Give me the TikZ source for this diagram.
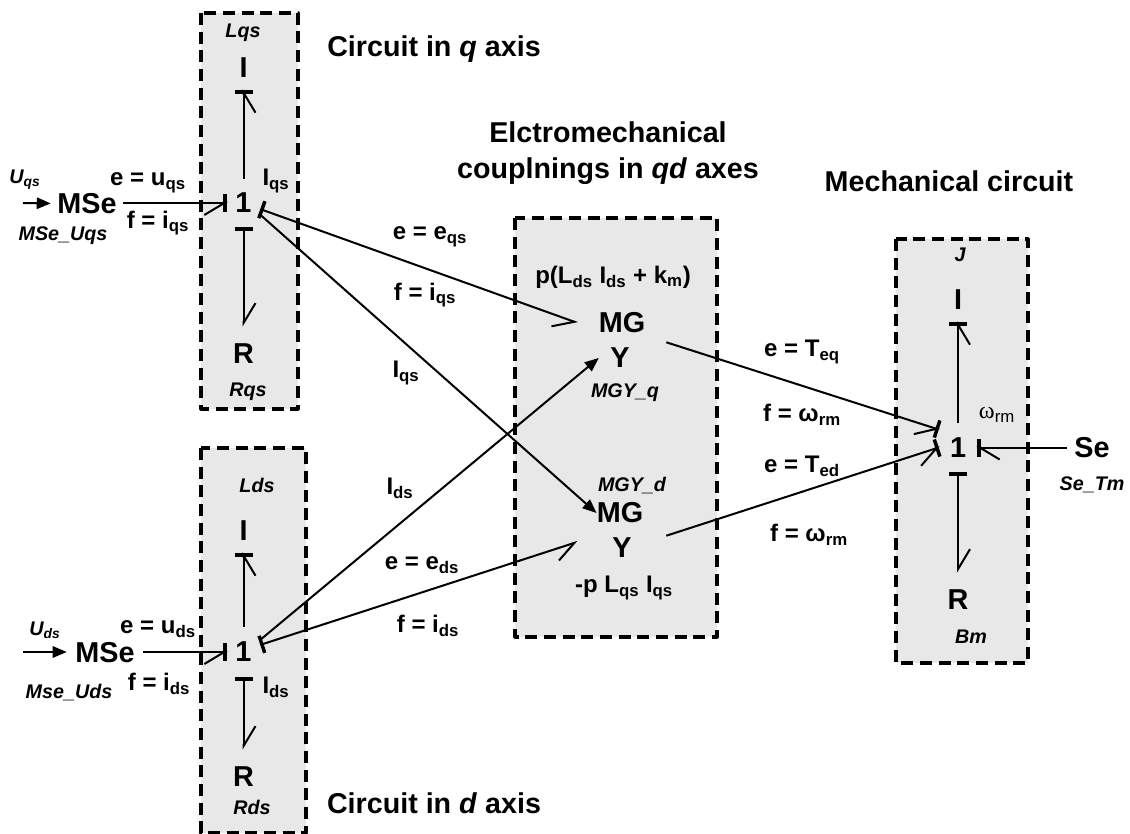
\documentclass[tikz,border=0pt]{standalone}
\usepackage{fontspec}
\setmainfont{Liberation Sans}
\newfontfamily\omegafont{Liberation Serif}
\usepackage{tikz}
\usetikzlibrary{arrows.meta,calc}
\definecolor{panelgray}{HTML}{E8E8E8}
\newcommand{\px}{0.75pt}
\tikzset{
	panel/.style={fill=panelgray, draw=black, line width=2.3pt, dash pattern=on 9pt off 5pt, line join=round},
	bigtxt/.style={font=\bfseries\fontsize{21.6}{24}\selectfont, inner sep=0pt},
	elem/.style={bigtxt, minimum width=33*\px},
	lab/.style={font=\bfseries\fontsize{18}{21}\selectfont, inner sep=0pt},
	head/.style={font=\bfseries\fontsize{21.5}{27}\selectfont, inner sep=0pt, align=center},
	ital/.style={font=\bfseries\itshape\fontsize{14.8}{17}\selectfont, inner sep=0pt},
	bond/.style={line width=1.5pt},
	bondEnd/.style={bond, -{Straight Barb[harpoon,swap,length=15pt,width=18pt,line width=1.5pt,sep=-3.5pt]Bar[width=13.5pt,line width=2.6pt]}},
	bondEndL/.style={bond, -{Straight Barb[harpoon,length=15pt,width=18pt,line width=1.5pt,sep=-3.5pt]Bar[width=13.5pt,line width=2.6pt]}},
	bondStart/.style={bond, {Bar[width=13.5pt,line width=2.6pt]}-{Straight Barb[harpoon,swap,length=15pt,width=18pt]}},
	bondStartL/.style={bond, {Bar[width=13.5pt,line width=2.6pt]}-{Straight Barb[harpoon,length=15pt,width=18pt]}},
	signal/.style={bond, -{Triangle[length=10.5pt,width=8.5pt]}}
}

\begin{document}
\begin{tikzpicture}[x=0.75pt,y=-0.75pt]
	\useasboundingbox (0,0) rectangle (1130,834);
	% gray panels
	\draw[panel] (201,13) rectangle (298,409);
	\draw[panel] (201,448) rectangle (306,833);
	\draw[panel] (515,218) rectangle (717,637);
	\draw[panel] (896,239) rectangle (1028,663);

	% circuit in q axis
	\node[elem, minimum height=48*\px] (oneQ) at (243.5,203) {1};
	\node[elem, minimum height=44*\px] (inerQ) at (243.5,68) {I};
	\node[elem, minimum height=54*\px] (resQ) at (243.5,354) {R};
	\node[bigtxt, minimum width=72*\px] (mseQ) at (87,204) {MSe};
	\coordinate (inQ) at (23,203);
	\node[ital] (nameLq) at (243,33) {Lqs};
	\node[ital] (nameRq) at (248,392) {Rqs};
	\node[ital] (nameUq) at (25,180) {U\textsubscript{qs}};
	\node[ital] (nameMq) at (63,236) {MSe\_Uqs};
	\node[lab] (euq) at (148,183) {e = u\textsubscript{qs}};
	\node[lab] (fiq) at (158,223) {f = i\textsubscript{qs}};
	\node[lab] (iq) at (276,181) {I\textsubscript{qs}};
	\node[head] (headQ) at (434,49) {Circuit in \textit{q} axis};

	% circuit in d axis
	\node[elem, minimum height=50*\px] (oneD) at (243.5,652) {1};
	\node[elem, minimum height=44*\px] (inerD) at (243.5,531) {I};
	\node[elem, minimum height=54*\px] (resD) at (243.5,777) {R};
	\node[bigtxt, minimum width=76*\px] (mseD) at (105,653) {MSe};
	\coordinate (inD) at (23,652);
	\node[ital] (nameLd) at (257,485) {Lds};
	\node[ital] (nameRd) at (252,807) {Rds};
	\node[ital] (nameUd) at (45,630) {U\textsubscript{ds}};
	\node[ital] (nameMd) at (69,693) {Mse\_Uds};
	\node[lab] (eud) at (158,629) {e = u\textsubscript{ds}};
	\node[lab] (fid) at (159,684) {f = i\textsubscript{ds}};
	\node[lab] (id) at (276,687) {I\textsubscript{ds}};
	\node[head] (headD) at (434,803) {Circuit in \textit{d} axis};

	% couplings
	\node[elem, minimum width=88*\px, minimum height=38*\px] (mgQ) at (622,323) {MG};
	\node[elem, minimum width=42*\px] (yQ) at (620,358) {Y};
	\node[elem, minimum width=46*\px] (mgD) at (620,513) {MG};
	\node[elem, minimum width=88*\px, minimum height=24*\px] (yD) at (622,548) {Y};
	\node[lab] (modQ) at (613,277) {p(L\textsubscript{ds} I\textsubscript{ds} + k\textsubscript{m})};
	\node[lab] (modD) at (624,588) {-p L\textsubscript{qs} I\textsubscript{qs}};
	\node[ital] (nameGq) at (625,393) {MGY\_q};
	\node[ital] (nameGd) at (632,486) {MGY\_d};
	\node[head] (headC) at (608,153) {Elctromechanical\\couplnings in \textit{qd} axes};
	\node[lab] (eeq) at (430,237) {e = e\textsubscript{qs}};
	\node[lab] (fiq2) at (425,295) {f = i\textsubscript{qs}};
	\node[lab] (iq2) at (406,373) {I\textsubscript{qs}};
	\node[lab] (id2) at (400,488) {I\textsubscript{ds}};
	\node[lab] (eed) at (422,565) {e = e\textsubscript{ds}};
	\node[lab] (fid2) at (428,626) {f = i\textsubscript{ds}};

	% mechanical circuit
	\node[elem, minimum width=38*\px, minimum height=49*\px] (oneM) at (958,447.5) {1};
	\node[elem, minimum height=44*\px] (inerM) at (958,300) {I};
	\node[elem, minimum height=54*\px] (resM) at (958,600) {R};
	\node[bigtxt, minimum width=50*\px] (seM) at (1092,447.5) {Se};
	\node[ital] (nameJ) at (960,255) {J};
	\node[ital] (nameB) at (971,637) {Bm};
	\node[ital] (nameS) at (1092,485) {Se\_Tm};
	\node[font=\fontsize{18}{20}\selectfont, inner sep=0pt] (wrm) at (997,415) {{\omegafont ω}\textsubscript{rm}};
	\node[head] (headM) at (949,181) {Mechanical circuit};
	\node[lab] (teq) at (802,352) {e = T\textsubscript{eq}};
	\node[lab] (fwq) at (802,415) {f = ω\textsubscript{rm}};
	\node[lab] (ted) at (802,466) {e = T\textsubscript{ed}};
	\node[lab] (fwd) at (809,535) {f = ω\textsubscript{rm}};

	% bonds
	\draw[signal] (inQ) -- (mseQ);
	\draw[bondEnd] (mseQ.east |- oneQ) -- (oneQ.west);
	\draw[bondEnd] (oneQ.north) -- (inerQ.south);
	\draw[bondStartL] (oneQ.south) -- (resQ.north);
	\draw[signal] (inD) -- (mseD.west |- inD);
	\draw[bondEnd] (mseD.east |- oneD) -- (oneD.west);
	\draw[bondEnd] (oneD.north) -- (inerD.south);
	\draw[bondStartL] (oneD.south) -- (resD.north);
	\draw[bondStart] (oneQ.-20) -- (mgQ.west);
	\draw[signal] (oneQ.-35) -- (mgD.west);
	\draw[signal] (oneD.36) -- (yQ.west);
	\draw[bondStart] (oneD.23) -- (yD.172);
	\draw[bondEnd] (mgQ.south east) -- (oneM.137);
	\draw[bondEnd] (yD.north east) -- (oneM.west);
	\draw[bondEnd] (oneM.north) -- (inerM.south);
	\draw[bondStartL] (oneM.south) -- (resM.north);
	\draw[bondEndL] (seM) -- (oneM);
\end{tikzpicture}
\end{document}
